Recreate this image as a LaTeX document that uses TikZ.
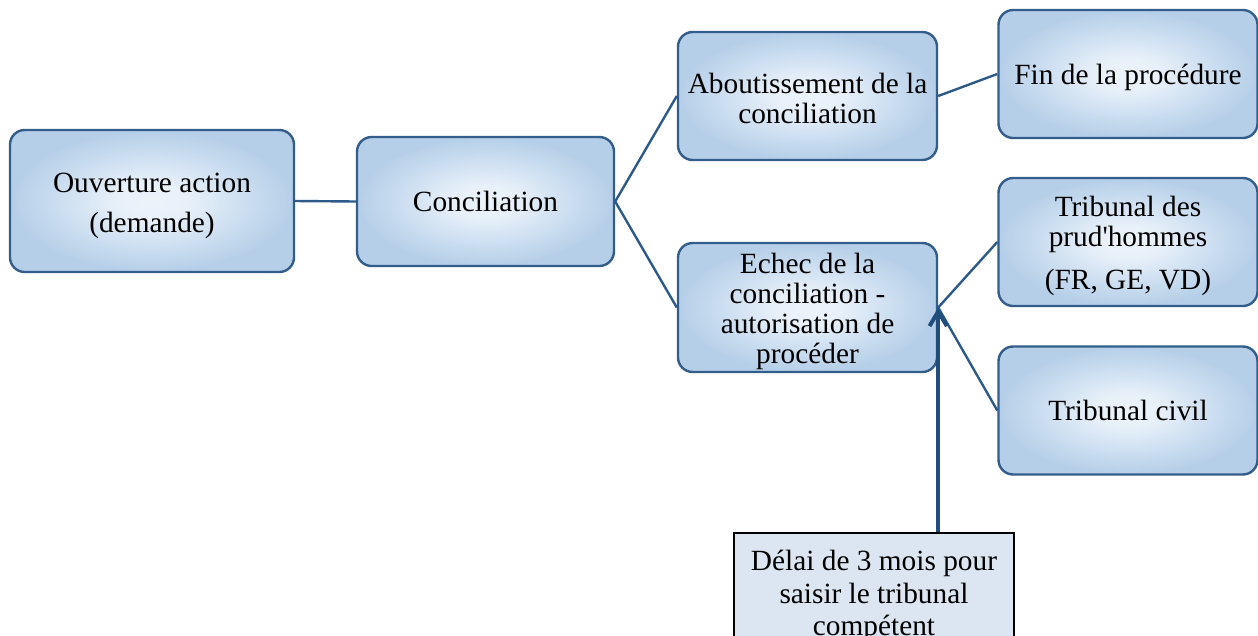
\documentclass[tikz,border=0pt]{standalone}
\usepackage{fontspec}
\setmainfont{Liberation Serif}
\usetikzlibrary{arrows.meta}
\definecolor{bord}{HTML}{335D8A}
\definecolor{lin}{HTML}{2D5A88}
\definecolor{arrc}{HTML}{1F4E7C}
\definecolor{dfill}{HTML}{DCE6F2}
\pgfdeclareradialshading{boxshade}{\pgfpointorigin}{rgb(0bp)=(0.92,0.95,0.98); rgb(6bp)=(0.91,0.945,0.98); rgb(25bp)=(0.71,0.81,0.91); rgb(50bp)=(0.71,0.81,0.91)}
\begin{document}
\begin{tikzpicture}[x=0.75pt,y=-0.75pt,
  box/.style={draw=bord, line width=1.8pt, rounded corners=11pt, shading=boxshade,
    inner sep=0pt, minimum width=194.25pt, minimum height=96pt},
  lbl/.style={align=center, font=\fontsize{22}{22.5}\selectfont, inner sep=0pt},
  txt/.style 2 args={label={[lbl, yshift=#1]center:{#2}}},
  note/.style={draw=black, line width=2pt, fill=dfill, align=center,
    font=\fontsize{22}{24.5}\selectfont, minimum width=210pt, minimum height=94.5pt},
  lnk/.style={draw=lin, line width=1.8pt},
  upar/.style={draw=arrc, line width=3pt, -{Straight Barb[length=11pt,width=13pt]}}
]
\useasboundingbox (0,0) rectangle (1258,636);
\clip (0,0) rectangle (1258,636);

\node[box, minimum width=213pt, minimum height=106.5pt, txt={-3.75pt}{Ouverture action\\[7.5pt](demande)}] (ouv) at (152,201) {};
\node[box, minimum width=192.75pt, minimum height=96.75pt, txt={0pt}{Conciliation}] (conc) at (485.5,201.5) {};
\node[box, txt={-1.5pt}{Aboutissement de la\\conciliation}] (abo) at (807.5,96) {};
\node[box, minimum height=96.75pt, txt={-3pt}{Echec de la\\conciliation -\\autorisation de\\procéder}] (ech) at (807.5,307.5) {};
\node[box, txt={-2.25pt}{Fin de la procédure}] (fin) at (1128,74) {};
\node[box, txt={-3pt}{Tribunal des\\prud\textquotesingle hommes\\[9.5pt](FR, GE, VD)}] (pru) at (1128,242) {};
\node[box, txt={0pt}{Tribunal civil}] (civ) at (1128,410.5) {};
\node[note] (del) at (874,596) {Délai de 3 mois pour\\saisir le tribunal\\compétent};

\draw[lnk] (ouv.east) -- (conc.west);
\draw[lnk] (conc.east) -- (abo.west);
\draw[lnk] (conc.east) -- (ech.west);
\draw[lnk] (abo.east) -- (fin.west);
\draw[lnk] (ech.east) -- (pru.west);
\draw[lnk] (ech.east) -- (civ.west);
\draw[upar] (ech.east |- del.north) -- (ech.east);
\end{tikzpicture}
\end{document}
